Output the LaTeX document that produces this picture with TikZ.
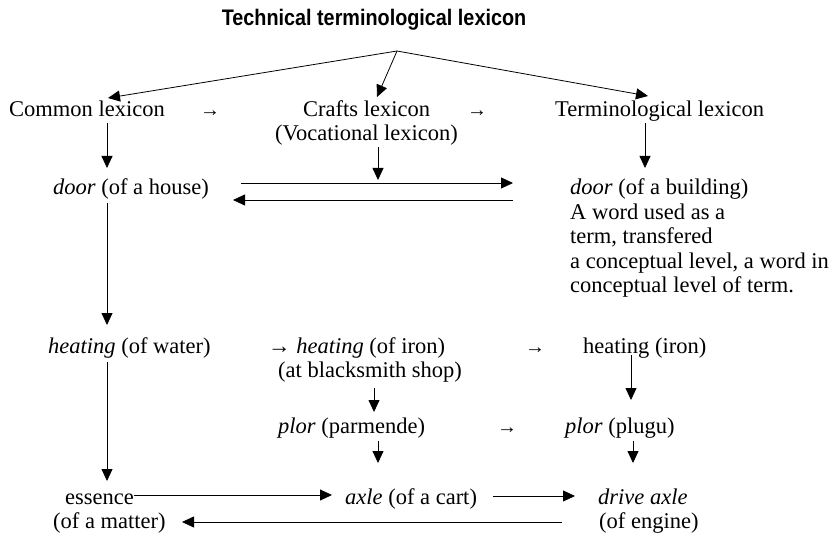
\documentclass[tikz,border=0pt]{standalone}
\usepackage{fontspec}
\setmainfont{Liberation Serif}
\newfontfamily\titlefont[FakeStretch=0.88]{Liberation Sans}
\usetikzlibrary{arrows.meta}
\begin{document}
\begin{tikzpicture}[x=1pt,y=-1pt,
  txt/.style={anchor=base west,inner sep=0pt,font=\fontsize{22.5}{25}\selectfont},
  sarrow/.style={anchor=base west,inner sep=0pt,font=\fontsize{20}{25}\selectfont},
  arr/.style={-{Triangle[length=12pt,width=11pt]},line width=0.8pt}]
\useasboundingbox (0,0) rectangle (833,540);
\node[anchor=base,inner sep=0pt,font=\titlefont\bfseries\fontsize{22.5}{26}\selectfont] (title) at (374,26) {Technical terminological lexicon};
\coordinate (apex) at (397,51);
% row 1
\node[txt] (common) at (9,117) {Common lexicon};
\node[sarrow] (ar1) at (200,117) {→};
\node[txt] (crafts) at (303,117) {Crafts lexicon};
\node[txt] (voc) at (275,141) {(Vocational lexicon)};
\node[sarrow] (ar2) at (467,117) {→};
\node[txt] (term) at (555,117) {Terminological lexicon};
% row 2
\node[txt] (doorh) at (53,195) {\textit{door} (of a house)};
\node[txt] (doorb) at (570,195) {\textit{door} (of a building)};
\node[txt] (p1) at (570,219.5) {A word used as a};
\node[txt] (p2) at (570,244) {term, transfered};
\node[txt] (p3) at (570,268.5) {a conceptual level, a word in};
\node[txt] (p4) at (570,293) {conceptual level of term.};
% row 3
\node[txt] (heatw) at (48,353) {\textit{heating} (of water)};
\node[txt] (heati) at (268,353) {→ \textit{heating} (of iron)};
\node[txt] (black) at (278,377) {(at blacksmith shop)};
\node[sarrow] (ar3) at (525,353) {→};
\node[txt] (heatr) at (583,353) {heating (iron)};
% row 4
\node[txt] (plorp) at (278,433) {\textit{plor} (parmende)};
\node[sarrow] (ar4) at (497,433) {→};
\node[txt] (plorg) at (565,433) {\textit{plor} (plugu)};
% row 5
\node[txt] (ess) at (65,504) {essence};
\node[txt] (matter) at (53,528) {(of a matter)};
\node[txt] (axle) at (345,504) {\textit{axle} (of a cart)};
\node[txt] (drive) at (598,504) {\textit{drive axle}};
\node[txt] (engine) at (599,528) {(of engine)};
% arrow end points
\coordinate (tCommon) at (108,98);
\coordinate (tCrafts) at (377,97);
\coordinate (tTerm) at (648,96);
\coordinate (sCommon) at (107,123);
\coordinate (eDoorH) at (107,168);
\coordinate (sVoc) at (378,147);
\coordinate (eVoc) at (378,180);
\coordinate (sTerm) at (645,123);
\coordinate (eDoorB) at (645,168);
\coordinate (fwdA) at (241,183);
\coordinate (fwdB) at (513,183);
\coordinate (bckA) at (513,200);
\coordinate (bckB) at (233,200);
\coordinate (sDoorH) at (107,203);
\coordinate (eHeatW) at (107,325);
\coordinate (sHeatR) at (631,355);
\coordinate (ePlorG) at (631,400);
\coordinate (sBlack) at (374,388);
\coordinate (ePlorP) at (374,412);
\coordinate (sPlorP) at (378,441);
\coordinate (eAxle) at (378,463);
\coordinate (sPlorG) at (633,441);
\coordinate (eDrive) at (633,463);
\coordinate (sHeatW) at (107,362);
\coordinate (eEss) at (107,481);
\coordinate (essR) at (134,495);
\coordinate (axleL) at (332,495);
\coordinate (axleR) at (493,496);
\coordinate (driveL) at (575,496);
\coordinate (engL) at (562,522);
\coordinate (matR) at (182,522);
% connectors from title apex
\draw[arr] (apex) -- (tCommon);
\draw[arr] (apex) -- (tCrafts);
\draw[arr] (apex) -- (tTerm);
% verticals
\draw[arr] (sCommon) -- (eDoorH);
\draw[arr] (sVoc) -- (eVoc);
\draw[arr] (sTerm) -- (eDoorB);
\draw[arr] (sDoorH) -- (eHeatW);
\draw[arr] (sHeatW) -- (eEss);
\draw[arr] (sHeatR) -- (ePlorG);
\draw[arr] (sBlack) -- (ePlorP);
\draw[arr] (sPlorP) -- (eAxle);
\draw[arr] (sPlorG) -- (eDrive);
% horizontals
\draw[arr] (fwdA) -- (fwdB);
\draw[arr] (bckA) -- (bckB);
\draw[arr] (essR) -- (axleL);
\draw[arr] (axleR) -- (driveL);
\draw[arr] (engL) -- (matR);
\end{tikzpicture}
\end{document}
